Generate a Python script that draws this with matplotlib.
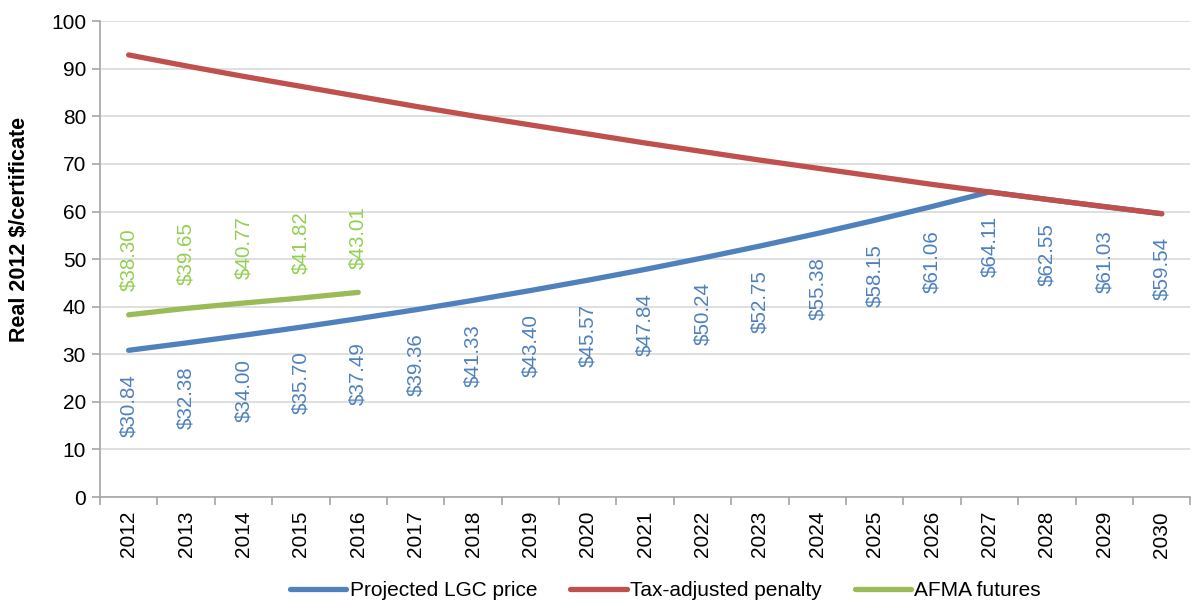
import matplotlib.pyplot as plt
from matplotlib.ticker import FixedLocator, MultipleLocator

plt.rcParams['font.family'] = ['Liberation Sans', 'DejaVu Sans']

years = [str(y) for y in range(2012, 2031)]
lgc_price = [30.84, 32.38, 34.00, 35.70, 37.49, 39.36, 41.33, 43.40, 45.57, 47.84,
             50.24, 52.75, 55.38, 58.15, 61.06, 64.11, 62.55, 61.03, 59.54]
penalty = [92.9, 90.6, 88.4, 86.3, 84.2, 82.1, 80.1, 78.2, 76.3, 74.4,
           72.6, 70.8, 69.1, 67.4, 65.7, 64.11, 62.55, 61.03, 59.54]
afma_years = years[:5]
afma_futures = [38.30, 39.65, 40.77, 41.82, 43.01]

BLUE = '#4F81BD'
RED = '#C0504D'
GREEN = '#9BBB59'
GREEN_TXT = '#92D050'

fig = plt.figure(figsize=(11.97, 6.04), dpi=100)
ax = fig.add_axes([0.0835, 0.177, 0.911, 0.788])

x = list(range(len(years)))
xa = list(range(len(afma_years)))
lw = 3.8
ax.plot(x, lgc_price, color=BLUE, lw=lw, solid_capstyle='round', label='Projected LGC price', zorder=3)
ax.plot(x, penalty, color=RED, lw=lw, solid_capstyle='round', label='Tax-adjusted penalty', zorder=4)
ax.plot(xa, afma_futures, color=GREEN, lw=lw, solid_capstyle='round', label='AFMA futures', zorder=5)

# value labels: LGC price below the line, futures above
for xi, v in zip(x, lgc_price):
    ax.annotate(f'${v:.2f}', (xi, v), xytext=(0, -17), textcoords='offset points',
                rotation=90, ha='center', va='top', fontsize=14.8, color=BLUE)
for xi, v in zip(xa, afma_futures):
    ax.annotate(f'${v:.2f}', (xi, v), xytext=(0, 17), textcoords='offset points',
                rotation=90, ha='center', va='bottom', fontsize=14.8, color=GREEN_TXT)

ax.set_ylim(0, 100)
ax.set_xlim(-0.5, len(years) - 0.5)
ax.yaxis.set_major_locator(MultipleLocator(10))
ax.grid(axis='y', color='#D9D9D9', lw=1.2)
ax.set_axisbelow(True)

# tick marks between categories, labels centred on them
ax.xaxis.set_major_locator(FixedLocator([i - 0.5 for i in range(len(years) + 1)]))
ax.xaxis.set_major_formatter(plt.NullFormatter())
ax.xaxis.set_minor_locator(FixedLocator(x))
ax.set_xticklabels(years, minor=True, rotation=90)
ax.tick_params(axis='x', which='minor', length=0, labelsize=15, pad=10)
ax.tick_params(axis='x', which='major', length=6, color='#A6A6A6', width=1.2)
ax.tick_params(axis='y', length=6, color='#A6A6A6', width=1.2, labelsize=15, pad=4)

for side in ['top', 'right']:
    ax.spines[side].set_visible(False)
for side in ['left', 'bottom']:
    ax.spines[side].set_color('#A6A6A6')
    ax.spines[side].set_linewidth(1.2)

fig.text(0.016, 0.62, 'Real 2012 $/certificate', rotation=90, ha='center', va='center',
         fontsize=15.5, fontweight='bold')

fig.legend(loc='center', bbox_to_anchor=(0.556, 0.022), ncol=3, frameon=False,
           fontsize=15, handlelength=2.7, handletextpad=0.15, columnspacing=1.6)

fig.savefig('out.png', dpi=100)
